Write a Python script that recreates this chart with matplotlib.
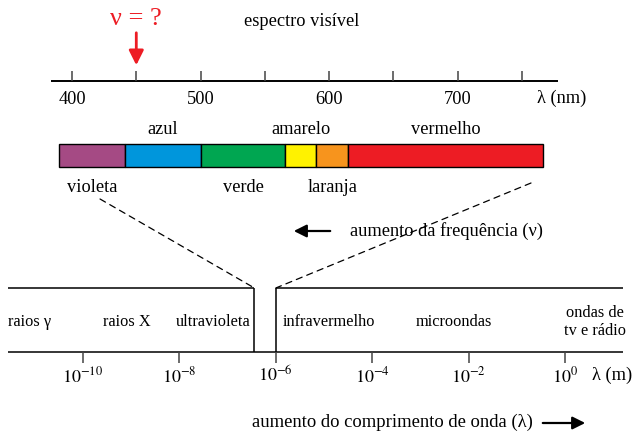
import matplotlib
matplotlib.use('Agg')
import matplotlib.pyplot as plt
from matplotlib.patches import ConnectionPatch

plt.rcParams['font.family'] = ['Liberation Serif', 'DejaVu Serif']
plt.rcParams['mathtext.fontset'] = 'stix'

# espectro visível (nm)
nm_ticks = [400, 450, 500, 550, 600, 650, 700, 750]
nm_labels = [400, 500, 600, 700]
color_names = ['violeta', 'azul', 'verde', 'amarelo', 'laranja', 'vermelho']
color_edges = [390, 441, 500, 566, 590, 615, 766]
color_hex = ['#A54A84', '#0096DC', '#00A651', '#FFF200', '#F7941D', '#ED1C24']
nu_mark = 450

# espectro eletromagnético (m)
m_ticks = [1e-10, 1e-8, 1e-6, 1e-4, 1e-2, 1e0]
m_labels = ['$10^{-10}$', '$10^{-8}$', '$10^{-6}$', '$10^{-4}$', '$10^{-2}$', '$10^{0}$']
m_range = [10**-11.55, 10**1.2]
uv_edge, ir_edge = 3.6e-7, 1e-6
regions = ['raios γ', 'raios X', 'ultravioleta', 'infravermelho', 'microondas', 'ondas de\ntv e rádio']
region_pos = [10**-11.1, 10**-9.1, 10**-7.3, 10**-4.9, 10**-2.3, 10**0.62]

fig = plt.figure(figsize=(6.4, 4.33), dpi=100)
# eixo superior: x em nm, y em pixels
ax_top = fig.add_axes([0, 0, 1, 1])
px_per_nm = 450 / 350
ax_top.set_xlim(400 - 72 / px_per_nm, 400 + 568 / px_per_nm)
ax_top.set_ylim(433, 0)
ax_top.axis('off')
# eixo inferior: x log em metros
ax_bot = fig.add_axes([0, 0, 1, 1])
ax_bot.set_xscale('log')
ax_bot.set_xlim(10**(-565 / 48.2), 10**(75 / 48.2))
ax_bot.set_ylim(433, 0)
ax_bot.axis('off')
ax_bot.patch.set_alpha(0)

fs = 13.2

ax_top.hlines(81, 400 - 21 / px_per_nm, 400 + 486 / px_per_nm, color='black', lw=1.4)
ax_top.vlines(nm_ticks, 71, 81, color='#444444', lw=1.1)
for v in nm_labels:
    ax_top.text(v, 100, str(v), ha='center', va='center', fontsize=fs)
ax_top.text(750 + 40 / px_per_nm, 98, 'λ (nm)', ha='center', va='center', fontsize=fs)
ax_top.text(302 / px_per_nm + 344, 22, 'espectro visível', ha='center', va='center', fontsize=fs)

starts = color_edges[:-1]
widths = [b - a for a, b in zip(color_edges[:-1], color_edges[1:])]
ax_top.barh(155.5, widths, left=starts, height=23, color=color_hex, edgecolor='black', lw=1)
for i, (name, a, w) in enumerate(zip(color_names, starts, widths)):
    y = 130 if i % 2 == 1 else 187
    ax_top.text(a + w / 2, y, name, ha='center', va='center', fontsize=fs)

ax_top.text(nu_mark, 19, 'ν = ?', color='#ED1C24', ha='center', va='center', fontsize=19)
ax_top.annotate('', xy=(nu_mark, 68), xytext=(nu_mark, 30),
                arrowprops=dict(arrowstyle='-|>', color='#ED1C24', lw=2, mutation_scale=22))

# espectro eletromagnético
ax_bot.hlines(352, m_range[0], m_range[1], color='black', lw=1.1)
ax_bot.hlines(288, m_range[0], uv_edge, color='black', lw=1.1)
ax_bot.hlines(288, ir_edge, m_range[1], color='black', lw=1.1)
ax_bot.vlines([uv_edge, ir_edge], 288, 352, color='black', lw=1.1)
ax_bot.vlines(m_ticks, 352, 363, color='#444444', lw=1.1)
for v, lab in zip(m_ticks, m_labels):
    ax_bot.text(v, 376, lab, ha='center', va='center', fontsize=13)
ax_bot.text(10**0.98, 375, 'λ (m)', ha='center', va='center', fontsize=fs)
for name, x in zip(regions, region_pos):
    ax_bot.text(x, 322, name, ha='center', va='center', fontsize=11.8, linespacing=1.1)

# linhas tracejadas
for xa, ya, xb in [(421.8, 199, uv_edge), (757, 183, ir_edge)]:
    con = ConnectionPatch(xyA=(xa, ya), coordsA=ax_top.transData,
                          xyB=(xb, 288), coordsB=ax_bot.transData,
                          ls=(0, (5, 4)), lw=0.9, color='black')
    fig.add_artist(con)

# setas
fig.text(350 / 640, 1 - 231 / 433, 'aumento da frequência (ν)', ha='left', va='center', fontsize=fs)
fig.add_artist(matplotlib.patches.FancyArrowPatch((333 / 640, 1 - 231 / 433), (291 / 640, 1 - 231 / 433),
               transform=fig.transFigure, arrowstyle='-|>', lw=1.6, mutation_scale=19, color='black'))
fig.text(252 / 640, 1 - 422 / 433, 'aumento do comprimento de onda (λ)', ha='left', va='center', fontsize=13.4)
fig.add_artist(matplotlib.patches.FancyArrowPatch((540 / 640, 1 - 423 / 433), (588 / 640, 1 - 423 / 433),
               transform=fig.transFigure, arrowstyle='-|>', lw=1.6, mutation_scale=19, color='black'))

fig.savefig('out.png', dpi=100)
